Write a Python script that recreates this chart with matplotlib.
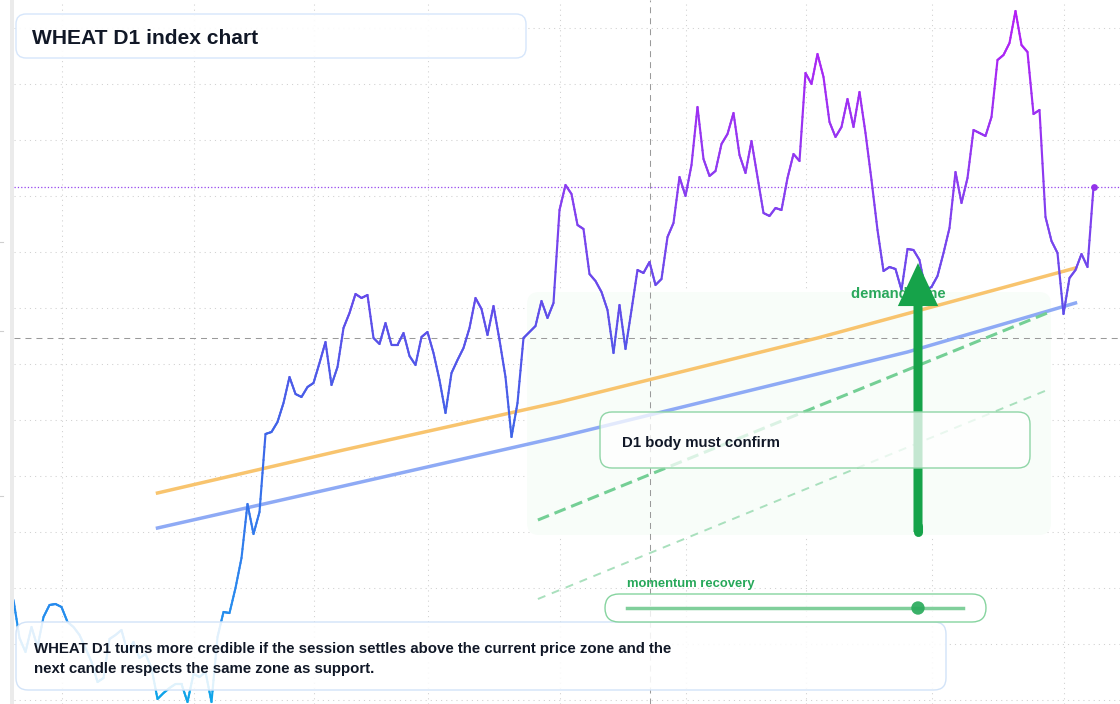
import numpy as np
import matplotlib
matplotlib.use('Agg')
import matplotlib.pyplot as plt
import matplotlib.transforms as mtransforms
from matplotlib.collections import LineCollection
from matplotlib.colors import LinearSegmentedColormap
from matplotlib.patches import FancyBboxPatch, FancyArrowPatch, ArrowStyle, Rectangle, Circle
from matplotlib.lines import Line2D

plt.rcParams['font.family'] = ['Liberation Sans', 'DejaVu Sans']
plt.rcParams['lines.scale_dashes'] = False

W, H = 1120, 704

# daily closes, one per session
price = [
    450, 431, 424, 436.5, 426.5, 441.5, 447.5, 448, 446.5, 439,
    436.5, 432.5, 426, 419, 409, 411, 430.5, 432.5, 435, 424,
    429, 421, 423, 416, 400.5, 403.5, 406, 408, 408, 399,
    413, 411.5, 414, 399, 431.5, 444, 443.5, 456, 471, 498,
    483, 494, 533, 534, 539, 548.5, 561.5, 553, 551.5, 556.5,
    558.5, 568.5, 579, 557.5, 566.5, 586, 593.5, 603, 601, 602.5,
    581, 578, 588.5, 577.5, 577.5, 583.5, 572, 567.5, 581.5, 584,
    573.5, 560, 543.5, 563.5, 570, 576, 586, 601, 595.5, 582.5,
    597, 580, 561.5, 531.5, 548.5, 581, 584, 587, 599.5, 591,
    598.5, 645, 657.5, 653, 637.5, 635.5, 613, 609.5, 604, 595,
    573.5, 597.5, 575.5, 595, 615, 613.5, 619, 607.5, 610.5, 631.5,
    638.5, 661.5, 652, 667.5, 696.5, 670.5, 662, 664.5, 678, 683,
    693.5, 672.5, 663.5, 679.5, 661.5, 643.5, 642, 646, 645, 661,
    673, 669.5, 713.5, 708, 723, 711.5, 689, 681.5, 686.5, 700.5,
    686.5, 704, 683.5, 660, 635, 614.5, 616.5, 615.5, 605, 625.5,
    625, 620, 605, 606.5, 612, 623.5, 636, 664, 648.5, 661,
    685, 683.5, 682, 691.5, 720, 722.5, 728.5, 744.5, 727.5, 724,
    693, 695, 641.5, 629.5, 623.5, 593, 611, 615, 623, 616.5, 656.5,
]
session = np.arange(len(price))
month_ticks = [8, 30, 50, 69, 91, 112, 132, 153, 175]
price_grid = np.arange(400, 750, 28)

# trend channel
upper_idx = [24, 55, 91, 134, 177]
upper_val = [503.5, 525, 549, 581, 616]
lower_idx = [24, 55, 91, 149, 177]
lower_val = [486, 507, 531.5, 574, 598.5]

# green guide lines
guide_idx = [87.4, 172.3]
guide_fast = [490, 593.5]
guide_slow = [450.5, 555]

zone_idx = (85.6, 172.9)
zone_val = (482.5, 604)

cross_idx, cross_val = 106, 581
arrow_idx, arrow_from, arrow_to = 150.75, 484, 618.5
momentum = 0.866

fig = plt.figure(figsize=(W / 100, H / 100), dpi=100, facecolor='white')
ax = fig.add_axes([14 / W, 0, 1 - 14 / W, 1])
ax.set_xlim((14 - 13.5) / 6, (W - 13.5) / 6)
ax.set_ylim(398, 750)
for s in ax.spines.values():
    s.set_visible(False)
ax.set_xticks(month_ticks)
ax.set_yticks(price_grid)
ax.tick_params(length=0, labelbottom=False, labelleft=False)
ax.grid(True, color='#d2d2d2', lw=0.75, linestyle=(0, (0.8, 2.9)), zorder=0)
ax.set_axisbelow(True)

px = mtransforms.Affine2D().scale(1 / W, 1 / H) + fig.transFigure

# left rail
fig.add_artist(Rectangle((10, 0), 4, H, transform=px, fc='#ebebeb', ec='none', zorder=0))
for ty in (242, 331, 496):
    fig.add_artist(Line2D([0, 3], [H - ty, H - ty], transform=px, color='#cfcfcf', lw=0.8))

# demand zone
zone = FancyBboxPatch((zone_idx[0], zone_val[0]), zone_idx[1] - zone_idx[0], zone_val[1] - zone_val[0],
                      boxstyle='round,pad=0,rounding_size=2', mutation_aspect=3,
                      fc='#f8fdf9', ec='none', zorder=1)
ax.add_patch(zone)

# crosshair
ax.axvline(cross_idx, color='#9a9a9a', lw=0.75, linestyle=(0, (4.3, 3.6)), zorder=2)
ax.axhline(cross_val, color='#9a9a9a', lw=0.75, linestyle=(0, (4.3, 3.6)), zorder=2)

# channel and guides
ax.plot(upper_idx, upper_val, color='#f8c46e', lw=2.5, zorder=3)
ax.plot(lower_idx, lower_val, color='#8eaaf5', lw=2.5, zorder=3)
ax.plot(guide_idx, guide_fast, color='#74cf95', lw=2.2, linestyle=(0, (8.6, 4.3)), zorder=3)
ax.plot(guide_idx, guide_slow, color='#a9e0bd', lw=1.4, linestyle=(0, (5.8, 5)), zorder=3)

# price line with vertical colour gradient
grad = LinearSegmentedColormap.from_list('wheat', [
    (0, '#0ea5e9'), (0.15, '#2888ee'), (0.4, '#4062e8'),
    (0.55, '#5c4ee9'), (0.75, '#8b3cf0'), (1, '#b41ef5')])
fine = np.linspace(0, len(price) - 1, (len(price) - 1) * 6 + 1)
fy = np.interp(fine, session, price)
pts = np.column_stack([fine, fy])
segs = np.stack([pts[:-1], pts[1:]], axis=1)
lc = LineCollection(segs, cmap=grad, norm=plt.Normalize(400, 745), linewidths=1.55,
                    capstyle='round', joinstyle='round', zorder=4)
lc.set_array((fy[:-1] + fy[1:]) / 2)
ax.add_collection(lc)

ax.axhline(price[-1], color='#9442f0', lw=0.9, linestyle=(0, (0.9, 1.5)), zorder=2)
ax.scatter([session[-1]], [price[-1]], s=24, color='#9333ea', zorder=5, linewidths=0)

# zone label and arrow
ax.text(139.6, 601, 'demand zone', color='#2aa85c', fontsize=10.6,
        fontweight='bold', ha='left', va='baseline', zorder=4.5)
ax.add_patch(FancyArrowPatch((arrow_idx, arrow_from), (arrow_idx, arrow_to),
                             arrowstyle=ArrowStyle.Simple(head_length=31, head_width=29, tail_width=6.5),
                             mutation_scale=1, shrinkA=0, shrinkB=0,
                             fc='#16a34a', ec='none', zorder=5))
ax.plot([arrow_idx, arrow_idx], [arrow_from, arrow_from + 3], color='#16a34a', lw=6.5,
        solid_capstyle='round', zorder=5)


def rbox(left, top, right, bottom, ec, fc, r=10, lw=1.0, z=6):
    fig.add_artist(FancyBboxPatch((left, H - bottom), right - left, bottom - top,
                                  boxstyle=f'round,pad=0,rounding_size={r}', transform=px,
                                  fc=fc, ec=ec, lw=lw, zorder=z))


def label(x, baseline, text, size, color='#111827', **kw):
    fig.text(x, H - baseline, text, transform=px, fontsize=size, fontweight='bold',
             color=color, ha='left', va='baseline', zorder=8, **kw)


# title
rbox(16, 14, 526, 58, '#d6e6fb', (1, 1, 1, 0.92))
label(32, 43.5, 'WHEAT D1 index chart', 15.1)

# confirmation box
rbox(600, 412, 1030, 468, '#8fd5a6', (1, 1, 1, 0.75), r=12)
label(622, 446.5, 'D1 body must confirm', 10.8)

# momentum slider
label(627, 587.5, 'momentum recovery', 9.4, color='#27a85a')
rbox(605, 594, 986, 622, '#86d49f', (1, 1, 1, 0.8), r=14)
fig.add_artist(Line2D([627, 963], [H - 608, H - 608], transform=px, color='#80cf9b',
                      lw=2.5, zorder=7))
fig.add_artist(Circle((627 + momentum * (963 - 627), H - 608), 6.7, transform=px,
                      fc='#2aab5c', ec='none', alpha=0.92, zorder=7))

# note
rbox(16, 622, 946, 690, '#d2e3f8', (1, 1, 1, 0.87), r=12, z=5)
label(34, 653.5, 'WHEAT D1 turns more credible if the session settles above the current price zone and the', 10.8)
label(34, 673.5, 'next candle respects the same zone as support.', 10.8)

fig.savefig('out.png', dpi=100, facecolor='white')
